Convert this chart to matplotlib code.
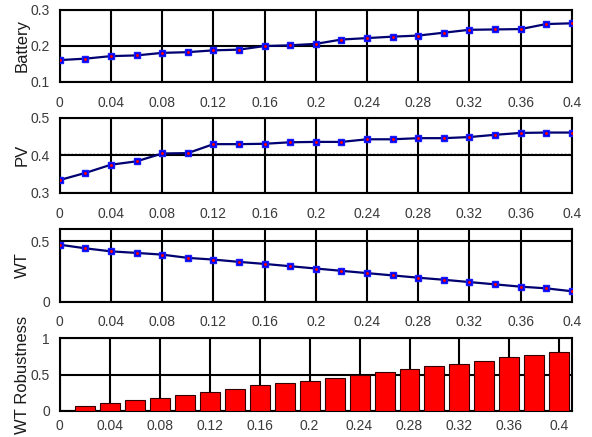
import matplotlib
matplotlib.use("Agg")
import matplotlib.pyplot as plt
import numpy as np

plt.rcParams['font.family'] = ['Liberation Sans', 'DejaVu Sans']

# pas de variation 0 -> 0.4
x = [0, 0.02, 0.04, 0.06, 0.08, 0.10, 0.12, 0.14, 0.16, 0.18, 0.20,
     0.22, 0.24, 0.26, 0.28, 0.30, 0.32, 0.34, 0.36, 0.38, 0.40]

battery = [0.160, 0.164, 0.171, 0.173, 0.180, 0.182, 0.187, 0.189, 0.199, 0.201, 0.205,
           0.217, 0.221, 0.225, 0.228, 0.236, 0.244, 0.245, 0.246, 0.260, 0.262]

pv = [0.334, 0.353, 0.375, 0.384, 0.405, 0.406, 0.430, 0.430, 0.431, 0.435, 0.436,
      0.436, 0.443, 0.443, 0.446, 0.446, 0.449, 0.455, 0.460, 0.461, 0.461]
pv_ref = 0.404

wt = [0.470, 0.440, 0.415, 0.402, 0.388, 0.361, 0.347, 0.328, 0.311, 0.292, 0.273,
      0.254, 0.235, 0.216, 0.197, 0.180, 0.161, 0.142, 0.123, 0.109, 0.085]

x_bar = x[1:]
robustesse = [0.064, 0.114, 0.145, 0.173, 0.223, 0.255, 0.300, 0.350, 0.384, 0.409,
              0.455, 0.500, 0.536, 0.577, 0.614, 0.645, 0.691, 0.736, 0.768, 0.814]

xticks = [0, 0.04, 0.08, 0.12, 0.16, 0.2, 0.24, 0.28, 0.32, 0.36, 0.4]
xticklabels = ['0', '0.04', '0.08', '0.12', '0.16', '0.2', '0.24', '0.28', '0.32', '0.36', '0.4']

fig = plt.figure(figsize=(5.92, 4.37), dpi=100)

positions = [[0.101, 0.813, 0.865, 0.165],
             [0.101, 0.559, 0.865, 0.171],
             [0.101, 0.310, 0.865, 0.166],
             [0.101, 0.060, 0.865, 0.166]]
axes = [fig.add_axes(p) for p in positions]


def mise_en_forme(ax, ylabel, yticks, yticklabels, ylim, xlim=(0, 0.4), pad_x=10):
    ax.set_xlim(*xlim)
    ax.set_ylim(*ylim)
    ax.set_xticks(xticks)
    ax.set_xticklabels(xticklabels)
    ax.set_yticks(yticks)
    ax.set_yticklabels(yticklabels)
    ax.tick_params(length=0, labelsize=10, labelcolor='#3a3a3a')
    ax.tick_params(axis='x', pad=pad_x)
    ax.tick_params(axis='y', pad=7)
    ax.grid(True, color='black', linewidth=1.5, linestyle='-')
    ax.set_axisbelow(True)
    for s in ax.spines.values():
        s.set_linewidth(1.5)
        s.set_color('black')
    ax.set_ylabel(ylabel, fontsize=12, color='#1a1a1a')
    ax.yaxis.set_label_coords(-0.058, 0.5)


def courbe(ax, y):
    ax.plot(x, y, color='#000070', linewidth=1.6, marker='s', markersize=4.6,
            markerfacecolor='#0000ee', markeredgecolor='#1a1aff', zorder=3)
    ax.plot(x, y, linestyle='none', marker='.', markersize=2.2, color='red', zorder=4)


courbe(axes[0], battery)
mise_en_forme(axes[0], 'Battery', [0.1, 0.2, 0.3], ['0.1', '0.2', '0.3'], (0.1, 0.3))

axes[1].axhline(pv_ref, color='black', linestyle=':', linewidth=1.0, zorder=2)
courbe(axes[1], pv)
mise_en_forme(axes[1], 'PV', [0.3, 0.4, 0.5], ['0.3', '0.4', '0.5'], (0.3, 0.5))

courbe(axes[2], wt)
mise_en_forme(axes[2], 'WT', [0, 0.5], ['0', '0.5'], (0, 0.6))

axes[3].bar(x_bar, robustesse, width=0.016, color='#ff0000', edgecolor='#330000',
            linewidth=0.8, zorder=3)
mise_en_forme(axes[3], 'WT Robustness', [0, 0.5, 1], ['0', '0.5', '1'], (0, 1),
              xlim=(0, 0.41), pad_x=6)

plt.savefig('out.png', dpi=100)
